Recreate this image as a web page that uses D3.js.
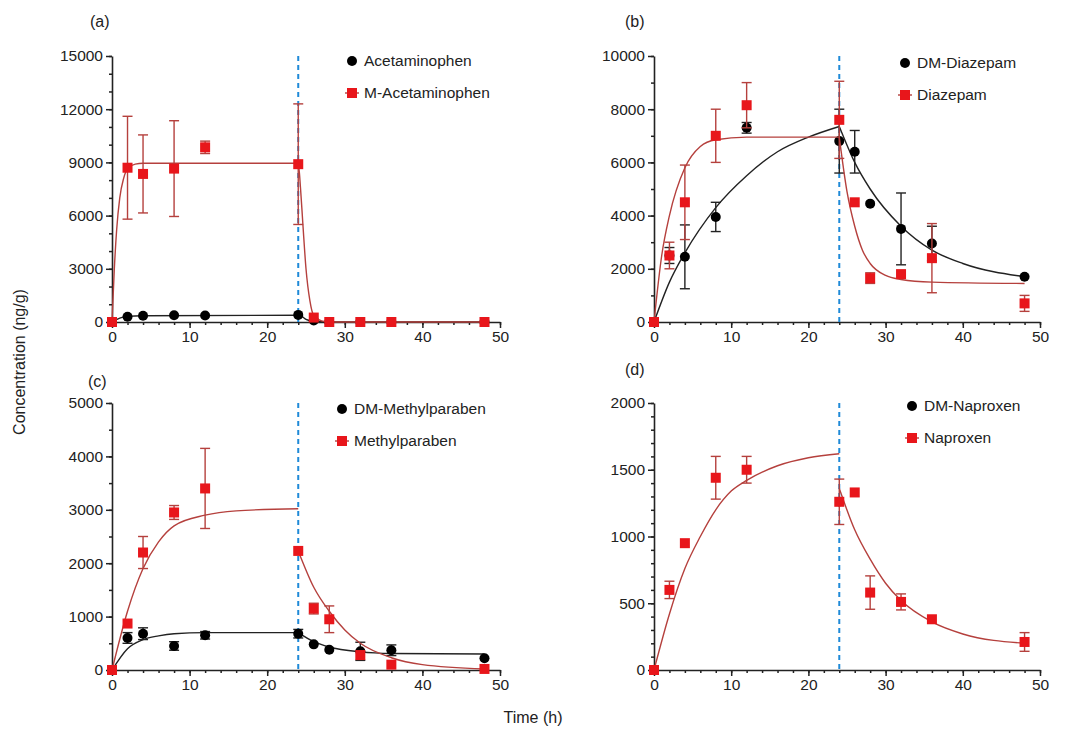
<!DOCTYPE html>
<html>
<head>
<meta charset="utf-8">
<script src="https://cdn.jsdelivr.net/npm/d3@7"></script>
<style>
  body { margin: 0; background: #fff; }
  text { font-family: Arial, "Liberation Sans", sans-serif; }
</style>
</head>
<body>
<div id="chart"></div>
<script>
// times of sampling
var times = [0, 2, 4, 8, 12, 24, 26, 28, 32, 36, 48];

// (a)
var acetaVals = [0, 300, 350, 380, 370, 400, 80, 0, 0, 0, 0];
var acetaErr  = [0, 0, 0, 0, 0, 0, 0, 0, 0, 0, 0];
var macetaVals = [0, 8700, 8350, 8650, 9850, 8900, 250, 0, 0, 0, 0];
var macetaErr  = [0, 2900, 2200, 2700, 350, 3400, 0, 0, 0, 0, 0];
var acetaFitT = [0, 1, 2, 4, 24, 24.5, 25, 26, 27, 28, 48];
var acetaFitY = [0, 220, 320, 350, 380, 300, 150, 40, 10, 0, 0];
var macetaFitT = [0, 0.3, 0.6, 1, 1.5, 2, 3, 4, 24, 24.3, 24.6, 25, 25.5, 26, 27, 28, 48];
var macetaFitY = [0, 3000, 5200, 7000, 8100, 8650, 8900, 8950, 8950, 7500, 5500, 3000, 1200, 350, 60, 0, 0];

// (b)
var dmDiazVals = [0, 2500, 2450, 3950, 7300, 6800, 6400, 4450, 3500, 2950, 1700];
var dmDiazErr  = [0, 300, 1200, 550, 200, 1200, 800, 0, 1350, 650, 0];
var diazVals = [0, 2500, 4500, 7000, 8150, 7600, 4500, 1650, 1800, 2400, 700];
var diazErr  = [0, 500, 1400, 1000, 850, 1450, 0, 200, 0, 1300, 300];
var dmDiazFitT = [0, 2, 4, 8, 12, 16, 20, 24, 24, 26, 28, 32, 36, 40, 48];
var dmDiazFitY = [0, 1500, 2600, 4300, 5500, 6400, 6950, 7350, 7350, 6000, 5000, 3600, 2700, 2200, 1700];
var diazFitT = [0, 1, 2, 4, 6, 8, 12, 24, 24, 25, 26, 27, 28, 30, 32, 36, 48];
var diazFitY = [0, 2500, 4000, 5800, 6600, 6850, 6950, 6950, 6950, 4900, 3600, 2700, 2200, 1750, 1600, 1500, 1450];

// (c)
var dmMethVals = [0, 600, 680, 450, 650, 680, 480, 380, 350, 370, 220];
var dmMethErr  = [0, 100, 110, 80, 70, 80, 0, 0, 170, 100, 0];
var methVals = [0, 870, 2200, 2950, 3400, 2230, 1150, 950, 280, 100, 20];
var methErr  = [0, 0, 300, 130, 750, 0, 100, 250, 0, 0, 0];
var dmMethFitT = [0, 2, 4, 6, 8, 12, 24, 24, 26, 28, 32, 36, 48];
var dmMethFitY = [0, 400, 570, 640, 680, 700, 700, 700, 530, 430, 340, 310, 300];
var methFitT = [0, 2, 4, 6, 8, 12, 16, 24, 24, 26, 28, 30, 32, 36, 40, 48];
var methFitY = [0, 1100, 1900, 2400, 2700, 2900, 2980, 3020, 2230, 1550, 1100, 750, 500, 230, 100, 20];

// (d)
var dmNapTimes = [0];
var dmNapVals = [0];
var napVals = [0, 600, 950, 1440, 1500, 1260, 1330, 580, 510, 380, 210];
var napErr  = [0, 65, 0, 160, 100, 170, 0, 125, 60, 0, 70];
var napFitT = [0, 2, 4, 6, 8, 10, 12, 16, 20, 24, 24, 26, 28, 30, 32, 36, 40, 48];
var napFitY = [0, 420, 760, 1000, 1200, 1340, 1420, 1530, 1590, 1620, 1360, 1050, 830, 650, 520, 360, 270, 200];

var RED = "#e8161b", RED_LINE = "#b5403d", BLUE = "#1f8ad8";

var panels = [
  { label: "(a)", lx: 90, ly: 27, x0: 112, x1: 500, yTop: 56, yBot: 322, ymax: 15000, step: 3000, minor: 1000,
    legX: 352, legY: 61,
    series: [
      { name: "Acetaminophen", shape: "circle", t: times, v: acetaVals, e: acetaErr, ft: acetaFitT, fy: acetaFitY },
      { name: "M-Acetaminophen", shape: "square", t: times, v: macetaVals, e: macetaErr, ft: macetaFitT, fy: macetaFitY }
    ] },
  { label: "(b)", lx: 625, ly: 27, x0: 654, x1: 1040, yTop: 56, yBot: 322, ymax: 10000, step: 2000, minor: 1000,
    legX: 905, legY: 63,
    series: [
      { name: "DM-Diazepam", shape: "circle", t: times, v: dmDiazVals, e: dmDiazErr, ft: dmDiazFitT, fy: dmDiazFitY },
      { name: "Diazepam", shape: "square", t: times, v: diazVals, e: diazErr, ft: diazFitT, fy: diazFitY }
    ] },
  { label: "(c)", lx: 88, ly: 387, x0: 112, x1: 500, yTop: 403, yBot: 670, ymax: 5000, step: 1000, minor: 500,
    legX: 342, legY: 409,
    series: [
      { name: "DM-Methylparaben", shape: "circle", t: times, v: dmMethVals, e: dmMethErr, ft: dmMethFitT, fy: dmMethFitY },
      { name: "Methylparaben", shape: "square", t: times, v: methVals, e: methErr, ft: methFitT, fy: methFitY }
    ] },
  { label: "(d)", lx: 625, ly: 375, x0: 654, x1: 1040, yTop: 403, yBot: 670, ymax: 2000, step: 500, minor: 100,
    legX: 912, legY: 406,
    series: [
      { name: "DM-Naproxen", shape: "circle", t: dmNapTimes, v: dmNapVals, e: [0], ft: null, fy: null },
      { name: "Naproxen", shape: "square", t: times, v: napVals, e: napErr, ft: napFitT, fy: napFitY }
    ] }
];

var svg = d3.select("#chart").append("svg").attr("width", 1067).attr("height", 741);

panels.forEach(function(p) {
  var x = d3.scaleLinear().domain([0, 50]).range([p.x0, p.x1]);
  var y = d3.scaleLinear().domain([0, p.ymax]).range([p.yBot, p.yTop]);
  var g = svg.append("g");

  // minor ticks
  g.append("g").attr("transform", "translate(0," + p.yBot + ")")
    .call(d3.axisBottom(x).tickValues(d3.range(0, 51, 2)).tickSize(3).tickFormat(""))
    .call(function(a) { a.select(".domain").remove(); });
  g.append("g").attr("transform", "translate(" + p.x0 + ",0)")
    .call(d3.axisLeft(y).tickValues(d3.range(0, p.ymax + 1, p.minor)).tickSize(3).tickFormat(""))
    .call(function(a) { a.select(".domain").remove(); });

  var xa = g.append("g").attr("transform", "translate(0," + p.yBot + ")")
    .call(d3.axisBottom(x).tickValues([0, 10, 20, 30, 40, 50]).tickSize(6).tickSizeOuter(0).tickFormat(d3.format("d")));
  var ya = g.append("g").attr("transform", "translate(" + p.x0 + ",0)")
    .call(d3.axisLeft(y).tickValues(d3.range(0, p.ymax + 1, p.step)).tickSize(6).tickSizeOuter(0).tickFormat(d3.format("d")));
  [xa, ya].forEach(function(a) {
    a.selectAll("path, line").attr("stroke", "#222").attr("stroke-width", 1.6);
    a.selectAll("text").attr("font-size", 15.5).attr("fill", "#222");
  });
  g.selectAll("line").attr("stroke", "#222").attr("stroke-width", 1.5);

  // blue dashed line at 24 h
  g.append("line").attr("x1", x(24)).attr("x2", x(24)).attr("y1", p.yTop).attr("y2", p.yBot)
    .attr("stroke", BLUE).attr("stroke-width", 2).attr("stroke-dasharray", "5,4");

  var line = d3.line().x(function(d) { return x(d[0]); }).y(function(d) { return y(d[1]); })
    .curve(d3.curveMonotoneX);

  p.series.forEach(function(s, si) {
    var col = s.shape === "circle" ? "#000" : RED;
    var lcol = s.shape === "circle" ? "#222" : RED_LINE;
    if (s.ft) {
      // a repeated time marks the break between uptake and depuration fits
      var segs = [[]];
      s.ft.forEach(function(t, i) {
        if (i > 0 && t === s.ft[i - 1]) segs.push([]);
        segs[segs.length - 1].push([t, s.fy[i]]);
      });
      segs.forEach(function(seg) {
        g.append("path").datum(seg).attr("d", line).attr("fill", "none")
          .attr("stroke", lcol).attr("stroke-width", 1.4);
      });
    }
    var pts2 = s.t.map(function(t, i) { return { t: t, v: s.v[i], e: s.e[i] }; });
    var eb = g.append("g").attr("stroke", lcol).attr("stroke-width", 1.4);
    pts2.filter(function(d) { return d.e > 0; }).forEach(function(d) {
      eb.append("line").attr("x1", x(d.t)).attr("x2", x(d.t)).attr("y1", y(d.v - d.e)).attr("y2", y(d.v + d.e));
      [d.v - d.e, d.v + d.e].forEach(function(yy) {
        eb.append("line").attr("x1", x(d.t) - 5).attr("x2", x(d.t) + 5).attr("y1", y(yy)).attr("y2", y(yy));
      });
    });
    pts2.forEach(function(d) {
      if (s.shape === "circle") {
        g.append("circle").attr("cx", x(d.t)).attr("cy", y(d.v)).attr("r", 5).attr("fill", col);
      } else {
        g.append("rect").attr("x", x(d.t) - 5).attr("y", y(d.v) - 5).attr("width", 10).attr("height", 10).attr("fill", col);
      }
    });

    // legend
    var ly = p.legY + si * 32;
    if (s.shape === "circle") {
      g.append("circle").attr("cx", p.legX).attr("cy", ly).attr("r", 5).attr("fill", col);
    } else {
      g.append("line").attr("x1", p.legX - 7).attr("x2", p.legX + 7).attr("y1", ly).attr("y2", ly)
        .attr("stroke", lcol).attr("stroke-width", 1.4);
      g.append("rect").attr("x", p.legX - 5).attr("y", ly - 5).attr("width", 10).attr("height", 10).attr("fill", col);
    }
    g.append("text").attr("x", p.legX + 12).attr("y", ly + 5).attr("font-size", 15.5).attr("fill", "#222").text(s.name);
  });

  g.append("text").attr("x", p.lx).attr("y", p.ly).attr("font-size", 16).attr("fill", "#222").text(p.label);
});

svg.append("text").attr("transform", "translate(25,362) rotate(-90)").attr("text-anchor", "middle")
  .attr("font-size", 16).attr("fill", "#222").text("Concentration (ng/g)");
svg.append("text").attr("x", 533).attr("y", 723).attr("text-anchor", "middle")
  .attr("font-size", 16).attr("fill", "#222").text("Time (h)");
</script>
</body>
</html>
